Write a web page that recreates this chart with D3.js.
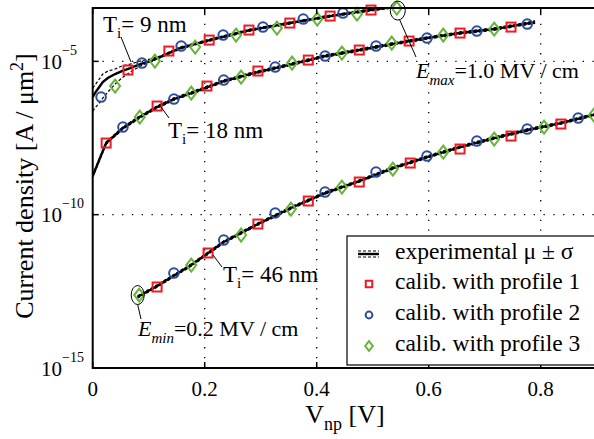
<!DOCTYPE html>
<html>
<head>
<meta charset="utf-8">
<script src="https://cdn.jsdelivr.net/npm/d3@7"></script>
<style>
  body { margin: 0; background: #fff; }
  svg { display: block; }
  text { font-family: "Liberation Serif", serif; fill: #000; }
</style>
</head>
<body>
<svg id="chart" width="594" height="439"></svg>
<script>
// ---- data (V in volts, current density as log10 of A/um^2) ----
const c1V    = [0, 0.004, 0.013, 0.018, 0.027, 0.040, 0.052, 0.067, 0.085, 0.102, 0.120, 0.156, 0.209, 0.281, 0.352, 0.424, 0.495, 0.549];
const c1Mean = [-6.164, -6.034, -5.805, -5.675, -5.545, -5.414, -5.316, -5.218, -5.088, -4.990, -4.860, -4.566, -4.306, -3.979, -3.751, -3.523, -3.327, -3.197];
const c1Hi   = [-5.871, -5.773, -5.545, -5.414, -5.316, -5.251, -5.153, -5.088, -4.990, -4.925, -4.827, -4.534, -4.273, -3.947, -3.719, -3.490, -3.295, -3.164];
const c1Lo   = [-6.620, -6.523, -6.327, -6.197, -6.001, -5.740, -5.545, -5.349, -5.153, -5.023, -4.892, -4.599, -4.338, -4.012, -3.784, -3.556, -3.360, -3.230];

const c2V     = [0, 0.024, 0.054, 0.084, 0.115, 0.145, 0.176, 0.234, 0.295, 0.356, 0.415, 0.476, 0.534, 0.597, 0.656, 0.717, 0.790];
const c2Mean  = [-8.740, -7.664, -7.175, -6.816, -6.490, -6.229, -6.034, -5.642, -5.349, -5.088, -4.827, -4.631, -4.436, -4.240, -4.077, -3.947, -3.719];
const c2Sigma = [0.04, 0.04, 0.04, 0.04, 0.04, 0.04, 0.04, 0.04, 0.04, 0.04, 0.04, 0.04, 0.04, 0.04, 0.04, 0.04, 0.04];

const c3V     = [0.080, 0.115, 0.176, 0.234, 0.295, 0.354, 0.415, 0.476, 0.536, 0.597, 0.656, 0.717, 0.776, 0.836, 0.900];
const c3Mean  = [-12.685, -12.326, -11.642, -10.892, -10.305, -9.783, -9.294, -8.903, -8.479, -8.120, -7.794, -7.501, -7.240, -7.012, -6.718];
const c3Sigma = [0.04, 0.04, 0.04, 0.04, 0.04, 0.04, 0.04, 0.04, 0.04, 0.04, 0.04, 0.04, 0.04, 0.04, 0.04];

// calibrated simulations (all three oxide thicknesses per profile)
const p1V   = [0.063, 0.136, 0.208, 0.279, 0.352, 0.424, 0.497, 0.024, 0.115, 0.204, 0.295, 0.385, 0.476, 0.565, 0.656, 0.747, 0.115, 0.206, 0.295, 0.385, 0.476, 0.567, 0.656, 0.747, 0.836];
const p1Log = [-5.284, -4.664, -4.306, -3.979, -3.751, -3.523, -3.327, -7.664, -6.457, -5.805, -5.316, -4.958, -4.631, -4.338, -4.077, -3.882, -12.359, -11.250, -10.305, -9.555, -8.935, -8.316, -7.859, -7.436, -7.044];
const p2V   = [0.015, 0.088, 0.158, 0.233, 0.304, 0.376, 0.447, 0.054, 0.145, 0.234, 0.326, 0.415, 0.506, 0.597, 0.686, 0.776, 0.145, 0.234, 0.326, 0.415, 0.506, 0.597, 0.686, 0.776, 0.867];
const p2Log = [-6.164, -5.055, -4.501, -4.142, -3.882, -3.621, -3.425, -7.142, -6.229, -5.610, -5.186, -4.827, -4.501, -4.240, -4.012, -3.784, -11.903, -10.827, -9.946, -9.262, -8.609, -8.088, -7.599, -7.207, -6.849];
const p3V   = [0.040, 0.111, 0.183, 0.256, 0.329, 0.401, 0.472, 0.543, 0.084, 0.176, 0.265, 0.356, 0.445, 0.534, 0.626, 0.717, 0.083, 0.176, 0.265, 0.354, 0.445, 0.536, 0.626, 0.717, 0.806, 0.895];
const p3Log = [-5.805, -4.990, -4.534, -4.142, -3.914, -3.621, -3.458, -3.262, -6.816, -6.034, -5.512, -5.055, -4.729, -4.403, -4.142, -3.947, -12.620, -11.642, -10.663, -9.816, -9.098, -8.512, -7.957, -7.533, -7.142, -6.751];

const xTicks = [0, 0.2, 0.4, 0.6, 0.8];
const yTicks = [-15, -10, -5];
const legendLabels = ["experimental \u03bc \u00b1 \u03c3", "calib. with profile 1", "calib. with profile 2", "calib. with profile 3"];

const colRed = "#ec1c24", colBlue = "#2f4d9f", colGreen = "#67b43a";

// ---- layout ----
const svg = d3.select("#chart");
const plotL = 92.7, plotR = 596.7, plotT = 8, plotB = 368;

const x = d3.scaleLinear().domain([0, 0.9]).range([plotL, plotR]);
const y = d3.scaleLog().domain([1e-15, Math.pow(10, -3.26)]).range([plotB, plotT]);
const yl = v => y(Math.pow(10, v));

svg.append("defs").append("clipPath").attr("id", "plotclip")
  .append("rect").attr("x", plotL).attr("y", plotT).attr("width", plotR - plotL).attr("height", plotB - plotT);

// grid (dotted)
const grid = svg.append("g").attr("stroke", "#000").attr("stroke-width", 1.3).attr("stroke-dasharray", "1.3,8.5");
xTicks.filter(t => t > 0).forEach(t => {
  grid.append("line").attr("x1", x(t)).attr("x2", x(t)).attr("y1", plotB).attr("y2", plotT);
});
yTicks.filter(t => t > -15).forEach(t => {
  grid.append("line").attr("x1", plotL).attr("x2", plotR).attr("y1", yl(t)).attr("y2", yl(t));
});

// experimental curves
const curves = svg.append("g").attr("clip-path", "url(#plotclip)");
const line = d3.line().x(d => x(d[0])).y(d => yl(d[1]));

function drawExp(V, mean, lo, hi) {
  curves.append("path").datum(V.map((v, i) => [v, lo[i]]))
    .attr("d", line).attr("fill", "none").attr("stroke", "#000").attr("stroke-width", 1.2).attr("stroke-dasharray", "3,2");
  curves.append("path").datum(V.map((v, i) => [v, hi[i]]))
    .attr("d", line).attr("fill", "none").attr("stroke", "#000").attr("stroke-width", 1.2).attr("stroke-dasharray", "3,2");
  curves.append("path").datum(V.map((v, i) => [v, mean[i]]))
    .attr("d", line).attr("fill", "none").attr("stroke", "#000").attr("stroke-width", 2.4);
}
drawExp(c1V, c1Mean, c1Lo, c1Hi);
drawExp(c2V, c2Mean, c2Mean.map((m, i) => m - c2Sigma[i]), c2Mean.map((m, i) => m + c2Sigma[i]));
drawExp(c3V, c3Mean, c3Mean.map((m, i) => m - c3Sigma[i]), c3Mean.map((m, i) => m + c3Sigma[i]));

// marker helpers
function square(g, cx, cy, s) {
  g.append("rect").attr("x", cx - s / 2).attr("y", cy - s / 2).attr("width", s).attr("height", s)
    .attr("fill", "none").attr("stroke", colRed).attr("stroke-width", 2);
}
function circle(g, cx, cy, r) {
  g.append("circle").attr("cx", cx).attr("cy", cy).attr("r", r)
    .attr("fill", "none").attr("stroke", colBlue).attr("stroke-width", 2);
}
function diamond(g, cx, cy, w, h) {
  g.append("path").attr("d", `M${cx},${cy - h}L${cx + w},${cy}L${cx},${cy + h}L${cx - w},${cy}Z`)
    .attr("fill", "none").attr("stroke", colGreen).attr("stroke-width", 2);
}

const marks = svg.append("g");
p1V.forEach((v, i) => square(marks, x(v), yl(p1Log[i]), 9));
p2V.forEach((v, i) => circle(marks, x(v), yl(p2Log[i]), 4.8));
p3V.forEach((v, i) => diamond(marks, x(v), yl(p3Log[i]), 5, 6.5));

// frame + ticks
const frame = svg.append("g").attr("stroke", "#000").attr("stroke-width", 2).attr("fill", "none");
frame.append("rect").attr("x", plotL).attr("y", plotT).attr("width", plotR - plotL).attr("height", plotB - plotT);
xTicks.forEach(t => {
  frame.append("line").attr("x1", x(t)).attr("x2", x(t)).attr("y1", plotB).attr("y2", plotB - 6).attr("stroke-width", 1.5);
  frame.append("line").attr("x1", x(t)).attr("x2", x(t)).attr("y1", plotT).attr("y2", plotT + 6).attr("stroke-width", 1.5);
});
yTicks.forEach(t => {
  frame.append("line").attr("x1", plotL).attr("x2", plotL + 6).attr("y1", yl(t)).attr("y2", yl(t)).attr("stroke-width", 1.5);
});

// tick labels
xTicks.forEach(t => {
  svg.append("text").attr("x", x(t)).attr("y", 396).attr("text-anchor", "middle")
    .attr("font-size", 21).text(t === 0 ? "0" : d3.format(".1f")(t));
});
yTicks.forEach(t => {
  const tx = svg.append("text").attr("x", 41).attr("y", yl(t) + 7.5).attr("font-size", 21);
  tx.append("tspan").text("10");
  tx.append("tspan").attr("dy", -14).attr("font-size", 14).text("\u2212" + Math.abs(t));
});

// axis titles
const xt = svg.append("text").attr("x", 345).attr("y", 423).attr("text-anchor", "middle").attr("font-size", 26);
xt.append("tspan").text("V");
xt.append("tspan").attr("dy", 7).attr("font-size", 18).text("np");
xt.append("tspan").attr("dy", -7).text(" [V]");

const ytl = svg.append("text").attr("transform", "translate(33,186) rotate(-90)")
  .attr("text-anchor", "middle").attr("font-size", 26);
ytl.append("tspan").text("Current density [A / \u03bcm");
ytl.append("tspan").attr("dy", -10).attr("font-size", 18).text("2");
ytl.append("tspan").attr("dy", 10).text("]");

// annotations
const ann = svg.append("g");
function tLabel(px, py, num) {
  const t = ann.append("text").attr("x", px).attr("y", py).attr("font-size", 23);
  t.append("tspan").text("T");
  t.append("tspan").attr("dy", 6).attr("font-size", 15).text("i");
  t.append("tspan").attr("dy", -6).text("= " + num + " nm");
}
function eLabel(px, py, sub, val) {
  const t = ann.append("text").attr("x", px).attr("y", py).attr("font-size", 22);
  t.append("tspan").attr("font-style", "italic").text("E");
  t.append("tspan").attr("dy", 7).attr("font-size", 15).attr("font-style", "italic").text(sub);
  t.append("tspan").attr("dy", -7).text("=" + val + " MV / cm");
}
function leader(x1, y1, x2, y2) {
  ann.append("line").attr("x1", x1).attr("y1", y1).attr("x2", x2).attr("y2", y2)
    .attr("stroke", "#000").attr("stroke-width", 1);
}

tLabel(103, 32, "9");
leader(121, 37, 131, 62);
tLabel(168, 138, "18");
leader(161, 107, 169, 118);
tLabel(223, 282, "46");
leader(213, 255, 222, 267);

// ellipses around extreme-field points (profile 3, first / last)
const eMaxX = x(p3V[7]), eMaxY = yl(p3Log[7]);
const eMinX = x(p3V[16]), eMinY = yl(p3Log[16]);
ann.append("ellipse").attr("cx", eMaxX + 1).attr("cy", eMaxY + 2.5).attr("rx", 7.5).attr("ry", 9.5)
  .attr("fill", "none").attr("stroke", "#000").attr("stroke-width", 1);
ann.append("ellipse").attr("cx", eMinX - 1.5).attr("cy", eMinY).attr("rx", 6.5).attr("ry", 9.5)
  .attr("fill", "none").attr("stroke", "#000").attr("stroke-width", 1);
leader(eMaxX + 3, eMaxY + 12, 416, 57);
leader(eMinX - 1.5, eMinY + 9.5, 141, 319);
eLabel(416, 78, "max", "1.0");
eLabel(138, 336, "min", "0.2");

// legend
const lg = svg.append("g");
lg.append("rect").attr("x", 347).attr("y", 236).attr("width", 260).attr("height", 129)
  .attr("fill", "#fff").attr("stroke", "#000").attr("stroke-width", 1.2);
const rowY = [254, 284, 315, 346];
lg.append("line").attr("x1", 358).attr("x2", 379).attr("y1", rowY[0]).attr("y2", rowY[0]).attr("stroke", "#000").attr("stroke-width", 2.4);
[-3, 3].forEach(o => {
  lg.append("line").attr("x1", 358).attr("x2", 379).attr("y1", rowY[0] + o).attr("y2", rowY[0] + o)
    .attr("stroke", "#000").attr("stroke-width", 1.2).attr("stroke-dasharray", "3,2");
});
square(lg, 369, rowY[1], 6.5);
circle(lg, 369, rowY[2], 3.4);
diamond(lg, 369, rowY[3], 3.8, 4.8);
legendLabels.forEach((s, i) => {
  lg.append("text").attr("x", 395).attr("y", rowY[i] + 5).attr("font-size", 23.5).text(s);
});
</script>
</body>
</html>
